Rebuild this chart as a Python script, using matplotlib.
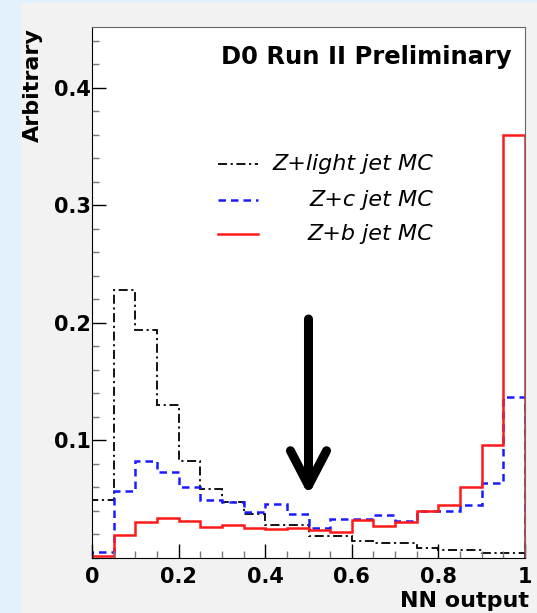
import numpy as np
import matplotlib.pyplot as plt
from matplotlib.patches import Rectangle

# NN output bins (20 bins of 0.05)
edges = np.linspace(0, 1, 21)

light_jet = [0.049, 0.228, 0.194, 0.130, 0.082, 0.058, 0.047, 0.037, 0.028, 0.028,
             0.018, 0.018, 0.014, 0.012, 0.012, 0.008, 0.0065, 0.0065, 0.004, 0.004]
c_jet = [0.005, 0.057, 0.082, 0.0725, 0.060, 0.049, 0.0475, 0.039, 0.0455, 0.037,
         0.0255, 0.033, 0.033, 0.036, 0.031, 0.040, 0.040, 0.0445, 0.063, 0.137]
b_jet = [0.001, 0.019, 0.030, 0.034, 0.031, 0.026, 0.0275, 0.025, 0.0243, 0.0254,
         0.0234, 0.022, 0.032, 0.027, 0.0305, 0.040, 0.0447, 0.060, 0.096, 0.360]

labels = ['Z+light jet MC', 'Z+c jet MC', 'Z+b jet MC']

fig = plt.figure(figsize=(5.37, 6.13), dpi=100)
fig.patch.set_facecolor('#e2f1fb')
fig.patches.append(Rectangle((21/537, 0), 1, 1 - 3/613, transform=fig.transFigure,
                             facecolor='#f2f2f2', edgecolor='none', zorder=-1))

ax = fig.add_axes([92/537, 1 - 557.5/613, 433/537, 530.5/613])
ax.set_facecolor('white')

dashdot = (0, (5, 2, 1.2, 2))
ax.stairs(light_jet, edges, color='black', lw=1.3, linestyle=dashdot)
ax.stairs(c_jet, edges, color='#1a1aff', lw=1.8, linestyle=(0, (3, 2)))
ax.stairs(b_jet, edges, color='#ff1a1a', lw=1.8)

ax.set_xlim(0, 1)
ax.set_ylim(0, 0.4515)

ax.set_xticks([0, 0.2, 0.4, 0.6, 0.8, 1.0])
ax.set_xticklabels(['0', '0.2', '0.4', '0.6', '0.8', '1'])
ax.set_xticks(np.arange(0, 1.0001, 0.05), minor=True)
ax.set_yticks([0.1, 0.2, 0.3, 0.4])
ax.set_yticks(np.arange(0, 0.45, 0.02), minor=True)

ax.tick_params(which='both', direction='in', top=False, right=False)
ax.tick_params(which='major', length=10, width=1, color='black')
ax.tick_params(which='minor', length=5, width=1, color='#777777')
ax.tick_params(axis='x', which='major', pad=7)
ax.tick_params(axis='y', which='major', pad=1)
for t in ax.get_xticklabels() + ax.get_yticklabels():
    t.set_fontweight('bold')
    t.set_fontsize(15)

for s in ['left', 'bottom']:
    ax.spines[s].set_color('black')
for s in ['top', 'right']:
    ax.spines[s].set_color('#666666')

# legend drawn by hand (right aligned text)
styles = [dict(color='black', lw=1.3, linestyle=dashdot),
          dict(color='#1a1aff', lw=1.8, linestyle=(0, (3, 2))),
          dict(color='#ff1a1a', lw=1.8)]
ys = [0.742, 0.674, 0.609]
for lab, st, yy in zip(labels, styles, ys):
    ax.plot([0.291, 0.383], [yy, yy], transform=ax.transAxes, **st)
    ax.text(0.7875, yy, lab, transform=ax.transAxes, ha='right', va='center',
            fontsize=16, fontstyle='italic')

ax.text(0.968, 0.944, 'D0 Run II Preliminary', transform=ax.transAxes,
        ha='right', va='center', fontsize=17.5, fontweight='bold')

# cut arrow at NN = 0.5
ax.annotate('', xy=(0.5, 0.053), xytext=(0.5, 0.203),
            arrowprops=dict(arrowstyle='->,head_length=2.5,head_width=1.3',
                            mutation_scale=10, lw=6.5, color='black',
                            shrinkA=0, shrinkB=0, capstyle='round', joinstyle='round'))

fig.text(33/537, 1 - 28/613, 'Arbitrary', rotation=90, ha='center', va='top',
         fontsize=16, fontweight='bold')
fig.text(529/537, 2/613, 'NN output', ha='right', va='bottom',
         fontsize=16, fontweight='bold')

fig.savefig('out.png', dpi=100, facecolor=fig.get_facecolor())
